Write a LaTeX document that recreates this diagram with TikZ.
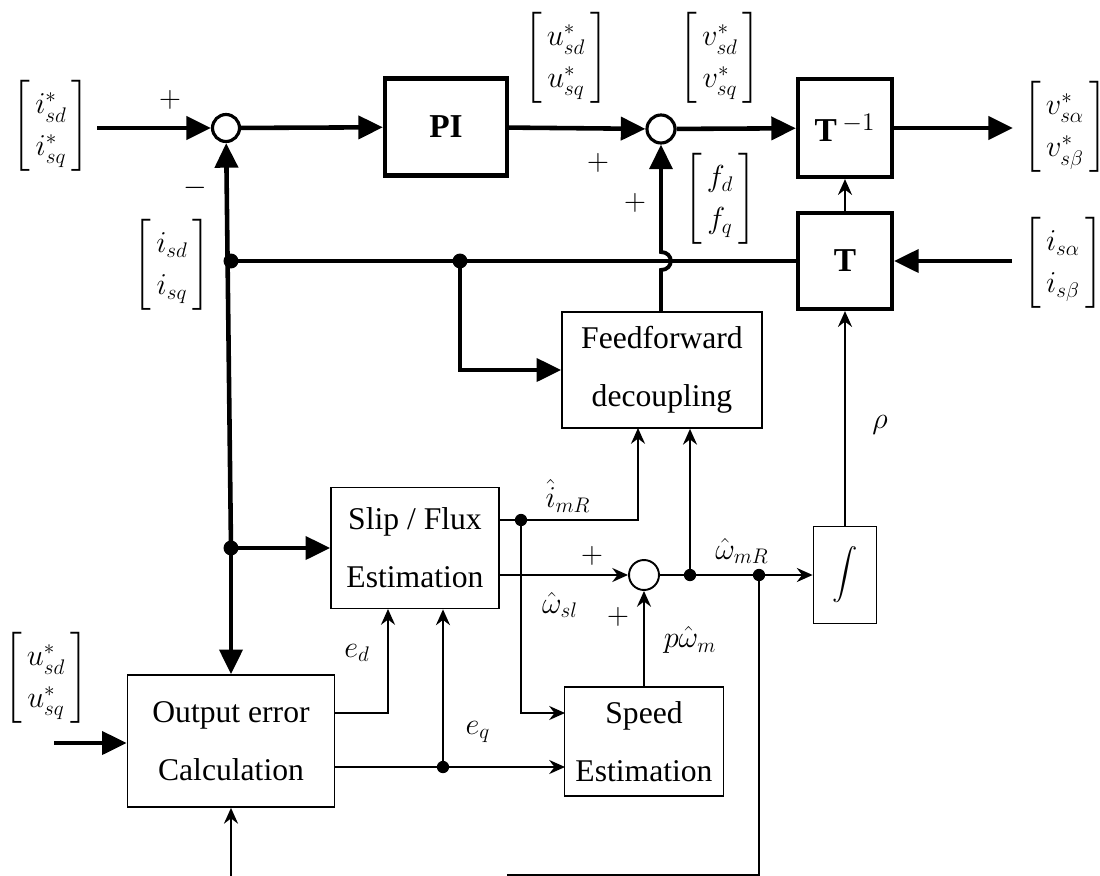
\documentclass[tikz,border=0pt]{standalone}
\usepackage{amsmath}
\usepackage{fontspec}
\setmainfont{Liberation Serif}
\usetikzlibrary{arrows.meta,calc}
\newcommand{\vecl}[2]{\left[\begin{array}{@{\,}c@{\,}}\rule{0pt}{19pt}#1\\ #2\rule[-9pt]{0pt}{9pt}\end{array}\right]}
\begin{document}
\begin{tikzpicture}[x=0.02cm,y=-0.02cm,
  every node/.style={font=\fontsize{18}{33}\selectfont},
  box/.style={draw,line width=1pt,inner sep=0pt,align=center},
  boldbox/.style={draw,line width=2.4pt,inner sep=0pt,font=\fontsize{19}{22}\selectfont\bfseries},
  sumj/.style={circle,draw,line width=1.8pt,inner sep=0pt,minimum size=0.54cm},
  sumt/.style={circle,draw,line width=1.1pt,inner sep=0pt,minimum size=0.6cm},
  thk/.style={line width=2.6pt,-{Triangle[length=14pt,width=13pt]}},
  thkline/.style={line width=2.6pt},
  thn/.style={line width=1.1pt,-{Stealth[length=9pt,width=8pt,inset=3pt]}},
  thnline/.style={line width=1.1pt},
  dotb/.style={circle,fill,inner sep=0pt,minimum size=8.5pt},
  dots/.style={circle,fill,inner sep=0pt,minimum size=7pt},
  lbl/.style={inner sep=1pt,font=\fontsize{18}{22}\selectfont},
  vec/.style={inner sep=0pt,font=\fontsize{17}{24}\selectfont}
]
\useasboundingbox (0,0) rectangle (1100,876);

% blocks
\node[sumj] (s1) at (226,128) {};
\node[boldbox,minimum width=2.44cm,minimum height=1.94cm] (PI) at (446,127) {PI};
\node[sumj,minimum size=0.56cm] (s2) at (661,129) {};
\node[boldbox,minimum width=1.88cm,minimum height=1.96cm] (Ti) at (845,128) {T\,$^{-1}$};
\node[boldbox,minimum width=1.88cm,minimum height=1.92cm] (T) at (845,261) {T};
\node[box,minimum width=4cm,minimum height=2.32cm] (ff) at (662,370) {Feedforward\\decoupling};
\node[box,minimum width=3.36cm,minimum height=2.42cm] (sf) at (415,548) {Slip / Flux\\Estimation};
\node[box,minimum width=4.14cm,minimum height=2.64cm] (oe) at (231,741) {Output error\\Calculation};
\node[box,minimum width=3.18cm,minimum height=2.18cm] (se) at (644,741.5) {Speed\\Estimation};
\node[box,minimum width=1.26cm,minimum height=1.94cm] (ig) at (845,575) {\fontsize{15}{18}\selectfont$\displaystyle\int$};
\node[sumt] (s3) at (644,575) {};

% junction dots and free ends
\node[dotb] (d1) at (231,261) {};
\node[dotb] (d2) at (460,261) {};
\node[dotb] (d3) at (231,548) {};
\node[dots] (d4) at (521,520) {};
\node[dots] (d5) at (690,575) {};
\node[dots] (d6) at (759,575) {};
\node[dots] (d7) at (443,767) {};
\coordinate (in1) at (97,128);
\coordinate (out1) at (1013,128);
\coordinate (in2) at (1012,261);
\coordinate (in3) at (54,743);
\coordinate (b1) at (231,876);
\coordinate (b3) at (507,875);
\coordinate (ffin1) at (638,428);
\coordinate (sein1) at (565,713);
\coordinate (sein2) at (565,767);
\coordinate (sfin1) at (388,609);

% thick signal paths
\draw[thk] (in1) -- (s1);
\draw[thk] (s1) -- (PI);
\draw[thk] (PI) -- (s2);
\draw[thk] (s2) -- (Ti);
\draw[thk] (Ti) -- (out1);
\draw[thk] (in2) -- (T);
\draw[thkline] (T) -- (d1.center);
\draw[thk] (d3.center) -- (s1);
\draw[thk] (d3.center) -- (oe);
\draw[thk] (d3.center) -- (sf);
\draw[thk] (d2.center) |- (ff);
\draw[line width=2.2pt,-{Triangle[length=14pt,width=13pt]}] (s2 |- ff.north) -- (661,270)
   .. controls (674,270) and (674,252) .. (661,252) -- (s2);
\draw[thk] (in3) -- (oe.west |- in3);

% thin signal paths
\draw[thn] (T) -- (Ti);
\draw[thn] (ig) -- (T);
\draw[thnline] (sf.east |- d4) -- (d4.center);
\draw[thn] (d4.center) -| (ffin1);
\draw[thn] (d4.center) |- (sein1);
\draw[thn] (sf.east |- s3) -- (s3);
\draw[thnline] (s3) -- (d5.center) -- (d6.center);
\draw[thn] (d5.center) -- (d5 |- ff.south);
\draw[thn] (d6.center) -- (ig);
\draw[thnline] (d6.center) |- (b3);
\draw[thn] (b1) -- (oe);
\draw[thn] (se) -- (s3);
\draw[thn] (oe.east |- sein1) -| (sfin1);
\draw[thn] (oe.east |- sein2) -- (sein2);
\draw[thn] (d7.center) -- (d7 |- sf.south);

% labels
\node[vec] (l1) at (51,126) {$\vecl{i^{*}_{sd}}{i^{*}_{sq}}$};
\node[vec] (l2) at (172,265) {$\vecl{i_{sd}}{i_{sq}}$};
\node[vec] (l3) at (566,58) {$\vecl{u^{*}_{sd}}{u^{*}_{sq}}$};
\node[vec] (l4) at (720,58) {$\vecl{v^{*}_{sd}}{v^{*}_{sq}}$};
\node[vec] (l5) at (720,199) {$\vecl{f_{d}}{f_{q}}$};
\node[vec] (l6) at (1065,127) {$\vecl{v^{*}_{s\alpha}}{v^{*}_{s\beta}}$};
\node[vec] (l7) at (1063,263) {$\vecl{i_{s\alpha}}{i_{s\beta}}$};
\node[vec] (l8) at (46,678) {$\vecl{u^{*}_{sd}}{u^{*}_{sq}}$};
\node[lbl] (p1) at (170,100) {$+$};
\node[lbl] (m1) at (195,188) {$-$};
\node[lbl] (p2) at (598,163) {$+$};
\node[lbl] (p3) at (635,203) {$+$};
\node[lbl] (p4) at (592,556) {$+$};
\node[lbl] (p5) at (618,617) {$+$};
\node[lbl] (l9) at (568,496) {$\hat{i}_{mR}$};
\node[lbl] (l10) at (560,605) {$\hat{\omega}_{sl}$};
\node[lbl] (l11) at (742,551) {$\hat{\omega}_{mR}$};
\node[lbl] (l12) at (690,640) {$p\hat{\omega}_{m}$};
\node[lbl] (l13) at (880,425) {$\rho$};
\node[lbl] (l14) at (357,653) {$e_{d}$};
\node[lbl] (l15) at (478,732) {$e_{q}$};
\end{tikzpicture}
\end{document}
